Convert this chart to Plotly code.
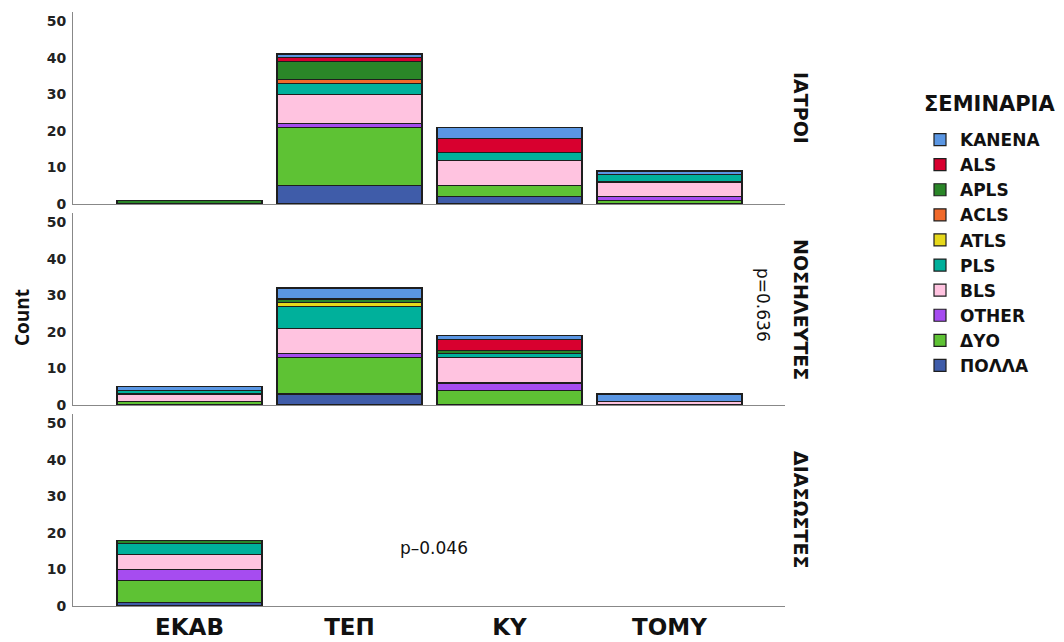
import plotly.graph_objects as go

categories = ["ΕΚΑΒ", "ΤΕΠ", "ΚΥ", "ΤΟΜΥ"]
panels = ["ΙΑΤΡΟΙ", "ΝΟΣΗΛΕΥΤΕΣ", "ΔΙΑΣΩΣΤΕΣ"]
y_ticks = [0, 10, 20, 30, 40, 50]

# rows: ΙΑΤΡΟΙ, ΝΟΣΗΛΕΥΤΕΣ, ΔΙΑΣΩΣΤΕΣ ; columns follow categories
polla  = [[0, 5, 2, 0], [0, 3, 0, 0], [1, 0, 0, 0]]
dyo    = [[0, 16, 3, 1], [1, 10, 4, 0], [6, 0, 0, 0]]
other  = [[0, 1, 0, 1], [0, 1, 2, 0], [3, 0, 0, 0]]
bls    = [[0, 8, 7, 4], [2, 7, 7, 1], [4, 0, 0, 0]]
pls    = [[0, 3, 2, 2], [1, 6, 1, 0], [3, 0, 0, 0]]
atls   = [[0, 0, 0, 0], [0, 1, 0, 0], [0, 0, 0, 0]]
acls   = [[0, 1, 0, 0], [0, 0, 0, 0], [0, 0, 0, 0]]
apls   = [[1, 5, 0, 0], [0, 1, 1, 0], [1, 0, 0, 0]]
als    = [[0, 1, 4, 0], [0, 0, 3, 0], [0, 0, 0, 0]]
kanena = [[0, 1, 3, 1], [1, 3, 1, 2], [0, 0, 0, 0]]

series_names = ["ΠΟΛΛΑ", "ΔΥΟ", "OTHER", "BLS", "PLS", "ATLS", "ACLS", "APLS", "ALS", "KANENA"]
series_values = [polla, dyo, other, bls, pls, atls, acls, apls, als, kanena]
series_colors = ["#3F5CA9", "#5EC234", "#A64CF0", "#FFC3E0", "#00B09B",
                 "#E6D81B", "#F0692A", "#2A8628", "#D8002F", "#5A96E3"]

legend_title = "ΣΕΜΙΝΑΡΙΑ"
p_values = ["p=0.636", "p–0.046"]

# page is rendered with the browser's default 8px body margin
OFF = 8
W, H = 1064 - OFF, 642 - OFF


def fx(px):
    return (px - OFF) / W


def fy(py):
    return (H - (py - OFF)) / H


x_left, x_right = 73, 785
panel_px = [(12, 204), (213, 405), (414, 606)]  # top, bottom in page pixels

fig = go.Figure()
for pi, pname in enumerate(panels):
    ax = "" if pi == 0 else str(pi + 1)
    for name, vals, col in zip(series_names, series_values, series_colors):
        yv = [v if v > 0 else None for v in vals[pi]]
        fig.add_trace(go.Bar(
            x=categories, y=yv, name=name,
            marker=dict(color=col, line=dict(color="#1e1e1e", width=1.2)),
            xaxis="x" + ax, yaxis="y" + ax,
            showlegend=(pi == 0),
        ))

layout = dict(
    width=W, height=H,
    barmode="stack", bargap=0.094,
    plot_bgcolor="white", paper_bgcolor="white",
    margin=dict(l=0, r=0, t=0, b=0),
    font=dict(family="DejaVu Sans", color="#222"),
    legend=dict(
        x=fx(920), y=fy(122), xanchor="left", yanchor="top",
        traceorder="reversed",
        font=dict(family="DejaVu Sans", size=17, color="#111", weight="bold"),
        itemclick=False,
    ),
)

for pi, pname in enumerate(panels):
    ax = "" if pi == 0 else str(pi + 1)
    top, bot = panel_px[pi]
    anchor_x = "x" + ax
    anchor_y = "y" + ax
    layout["xaxis" + ax] = dict(
        domain=[fx(x_left), fx(x_right)], anchor=anchor_y,
        range=[-0.728, 3.722], type="category",
        showline=True, linecolor="#888", linewidth=1,
        showgrid=False, zeroline=False, ticks="",
        showticklabels=(pi == 2), automargin=False,
        tickfont=dict(family="DejaVu Sans", size=23, color="#111", weight="bold"),
        ticklabelstandoff=0,
    )
    layout["yaxis" + ax] = dict(
        domain=[fy(bot), fy(top)], anchor=anchor_x,
        range=[0, 52.5], tickvals=y_ticks, automargin=False,
        showline=True, linecolor="#888", linewidth=1,
        showgrid=False, zeroline=False, ticks="",
        tickfont=dict(family="DejaVu Sans", size=14, color="#222", weight="bold"),
        ticklabelstandoff=3,
    )

fig.update_layout(**layout)

annotations = []
for pi, pname in enumerate(panels):
    top, bot = panel_px[pi]
    annotations.append(dict(
        x=fx(801), y=fy((top + bot) / 2), xref="paper", yref="paper",
        xanchor="center", yanchor="middle",
        text="<b>" + pname + "</b>", textangle=90, showarrow=False,
        font=dict(family="DejaVu Sans", size=19, color="#111"),
    ))
annotations.append(dict(
    x=fx(763), y=fy(305), xref="paper", yref="paper",
    xanchor="center", yanchor="middle",
    text=p_values[0], textangle=90, showarrow=False,
    font=dict(family="DejaVu Sans", size=17, color="#111"),
))
annotations.append(dict(
    x=fx(434), y=fy(548), xref="paper", yref="paper",
    xanchor="center", yanchor="middle",
    text=p_values[1], showarrow=False,
    font=dict(family="DejaVu Sans", size=17, color="#111"),
))
annotations.append(dict(
    x=fx(22), y=fy(318), xref="paper", yref="paper",
    xanchor="center", yanchor="middle",
    text="<b>Count</b>", textangle=-90, showarrow=False,
    font=dict(family="Open Sans", size=19, color="#111"),
))
annotations.append(dict(
    x=fx(922), y=fy(104), xref="paper", yref="paper",
    xanchor="left", yanchor="middle",
    text="<b>" + legend_title + "</b>", showarrow=False,
    font=dict(family="DejaVu Sans", size=21, color="#111"),
))
fig.update_layout(annotations=annotations)

fig.write_html("out.html")
